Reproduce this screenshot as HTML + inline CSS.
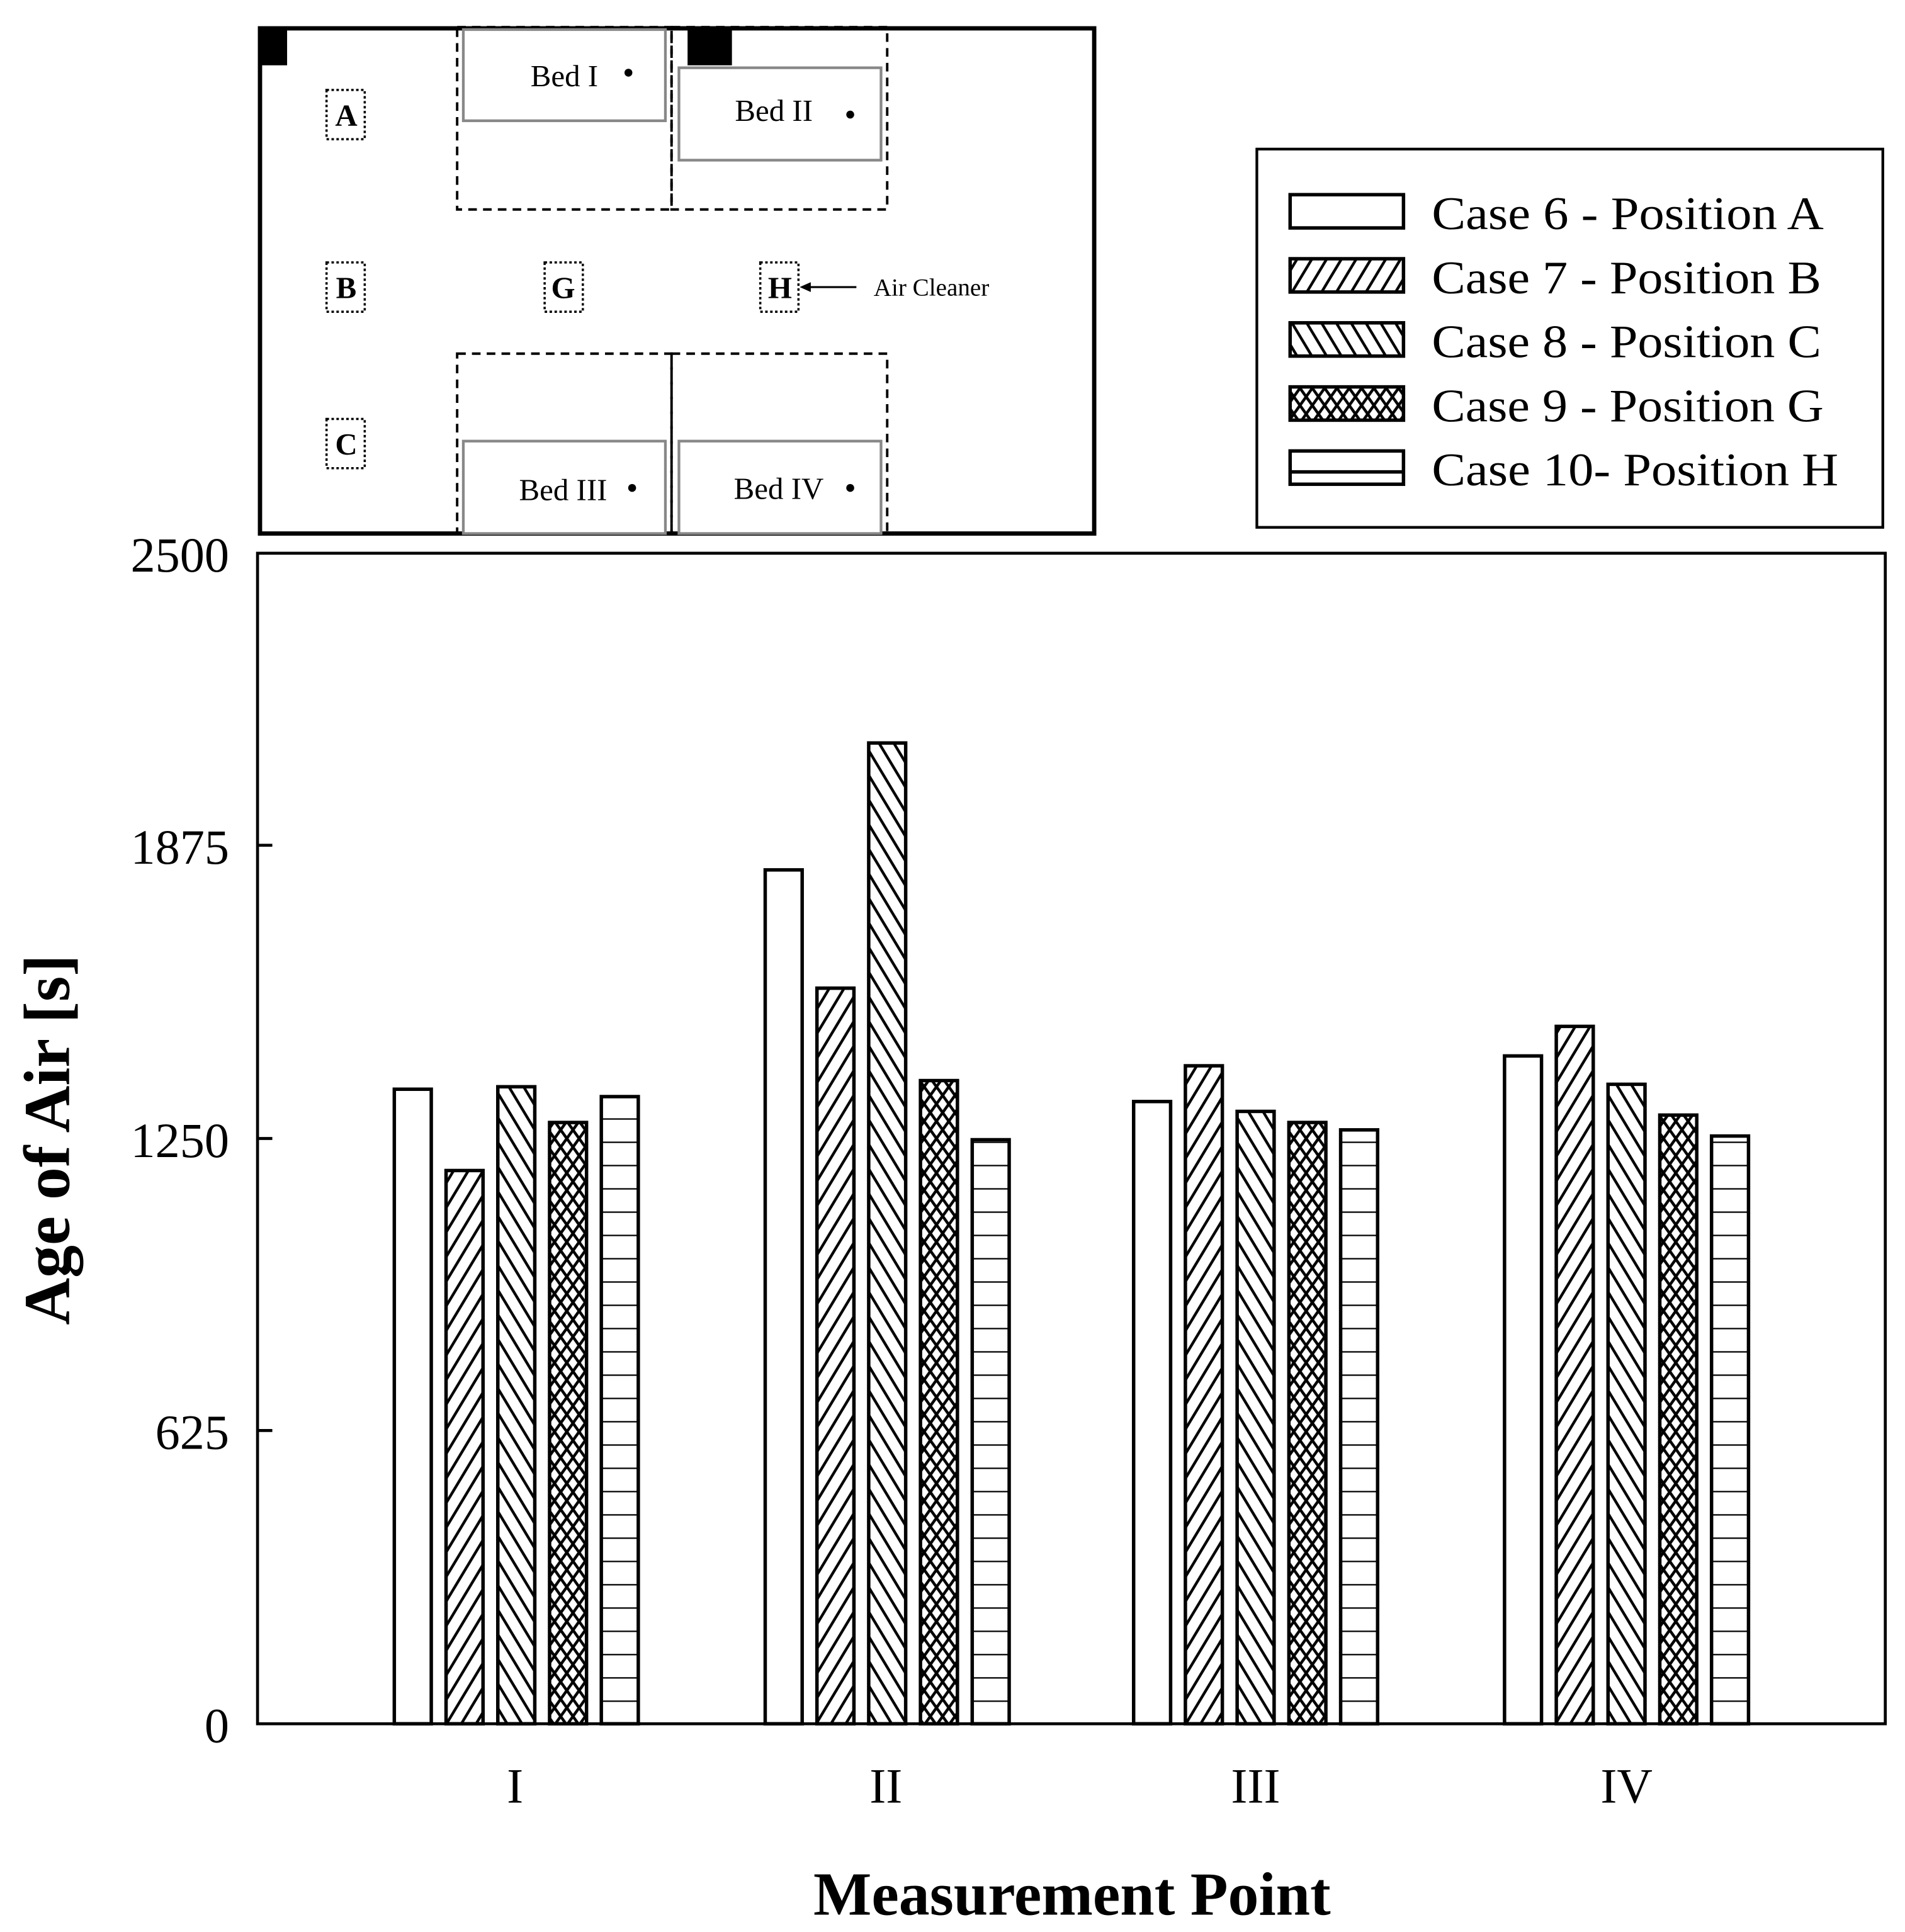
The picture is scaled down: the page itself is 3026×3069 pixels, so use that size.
<!DOCTYPE html>
<html><head><meta charset="utf-8"><style>html,body{margin:0;padding:0;background:#fff}svg{display:block}</style></head>
<body>
<svg width="3026" height="3069" viewBox="0 0 1546 1568" preserveAspectRatio="none" xmlns="http://www.w3.org/2000/svg" font-family="'Liberation Serif', serif">
<defs>
<pattern id="p7" patternUnits="userSpaceOnUse" width="12" height="20" patternTransform="skewX(-31)"><rect width="12" height="20" fill="#fff"/><line x1="3" y1="0" x2="3" y2="20" stroke="#000" stroke-width="2.6"/></pattern>
<pattern id="p8" patternUnits="userSpaceOnUse" width="12" height="20" patternTransform="skewX(31)"><rect width="12" height="20" fill="#fff"/><line x1="3" y1="0" x2="3" y2="20" stroke="#000" stroke-width="2.6"/></pattern>
<pattern id="p9" patternUnits="userSpaceOnUse" width="10" height="14"><rect width="10" height="14" fill="#fff"/><path d="M0 0L10 14M10 0L0 14" stroke="#000" stroke-width="2.3"/></pattern>
<pattern id="p10" patternUnits="userSpaceOnUse" width="30" height="18.9" y="1399"><rect width="30" height="18.9" fill="#fff"/><line x1="0" y1="0" x2="30" y2="0" stroke="#000" stroke-width="2.3"/></pattern>
</defs>
<rect width="1546" height="1568" fill="#fff"/>
<!-- room -->
<rect x="211" y="23" width="677" height="410" fill="none" stroke="#000" stroke-width="3.5"/>
<rect x="210" y="22" width="23" height="31" fill="#000"/>
<rect x="558" y="22" width="36" height="31" fill="#000"/>
<g fill="none" stroke="#000" stroke-width="2" stroke-dasharray="7,5">
<rect x="371" y="22" width="174" height="148"/><rect x="545" y="22" width="175" height="148"/>
<rect x="371" y="287" width="174" height="146"/><rect x="545" y="287" width="175" height="146"/>
</g>
<g fill="#fff" stroke="#888" stroke-width="2.2">
<rect x="376" y="24" width="164" height="74"/><rect x="551" y="55" width="164" height="75"/>
<rect x="376" y="358" width="164" height="75"/><rect x="551" y="358" width="164" height="75"/>
</g>
<g font-size="25" text-anchor="middle">
<text x="458" y="70">Bed I</text><text x="628" y="98">Bed II</text>
<text x="457" y="406">Bed III</text><text x="632" y="405">Bed IV</text>
</g>
<g fill="#000"><circle cx="510" cy="59" r="3.2"/><circle cx="690" cy="93" r="3.2"/><circle cx="513" cy="396" r="3.2"/><circle cx="690" cy="396" r="3.2"/></g>
<g fill="none" stroke="#000" stroke-width="1.8" stroke-dasharray="2,2">
<rect x="265" y="73" width="31" height="40"/><rect x="265" y="213" width="31" height="40"/><rect x="265" y="340" width="31" height="40"/>
<rect x="442" y="213" width="31" height="40"/><rect x="617" y="213" width="31" height="40"/>
</g>
<g font-size="25" font-weight="bold" text-anchor="middle">
<text x="281" y="102">A</text><text x="281" y="242">B</text><text x="281" y="369">C</text><text x="457" y="242">G</text><text x="633" y="242">H</text>
</g>
<line x1="652" y1="233" x2="695" y2="233" stroke="#000" stroke-width="1.6"/>
<path d="M649 233L658 229L658 237Z" fill="#000"/>
<text x="709" y="240" font-size="20">Air Cleaner</text>
<!-- legend -->
<rect x="1020" y="121" width="508" height="307" fill="#fff" stroke="#000" stroke-width="2.2"/>
<g stroke="#000" stroke-width="2.8">
<rect x="1047" y="158" width="92" height="27" fill="#fff"/>
<rect x="1047" y="210" width="92" height="27" fill="url(#p7)"/>
<rect x="1047" y="262" width="92" height="27" fill="url(#p8)"/>
<rect x="1047" y="314" width="92" height="27" fill="url(#p9)"/>
<rect x="1047" y="366" width="92" height="27" fill="#fff"/>
<line x1="1047" y1="383" x2="1139" y2="383"/>
</g>
<g font-size="38">
<text x="1162" y="186" textLength="318" lengthAdjust="spacingAndGlyphs">Case 6 - Position A</text>
<text x="1162" y="238" textLength="316" lengthAdjust="spacingAndGlyphs">Case 7 - Position B</text>
<text x="1162" y="290" textLength="316" lengthAdjust="spacingAndGlyphs">Case 8 - Position C</text>
<text x="1162" y="342" textLength="318" lengthAdjust="spacingAndGlyphs">Case 9 - Position G</text>
<text x="1162" y="394" textLength="330" lengthAdjust="spacingAndGlyphs">Case 10- Position H</text>
</g>
<!-- plot -->
<rect x="209" y="449" width="1321" height="950" fill="none" stroke="#000" stroke-width="2.4"/>
<g stroke="#000" stroke-width="2.4"><line x1="209" y1="686" x2="221" y2="686"/><line x1="209" y1="924" x2="221" y2="924"/><line x1="209" y1="1161" x2="221" y2="1161"/></g>
<g font-size="40" text-anchor="end">
<text x="186" y="464">2500</text><text x="186" y="701">1875</text><text x="186" y="939">1250</text><text x="186" y="1176">625</text><text x="186" y="1414">0</text>
</g>
<g stroke="#000" stroke-width="2.8">
<rect x="320" y="884" width="30" height="515" fill="#fff"/>
<rect x="362" y="950" width="30" height="449" fill="url(#p7)"/>
<rect x="404" y="882" width="30" height="517" fill="url(#p8)"/>
<rect x="446" y="911" width="30" height="488" fill="url(#p9)"/>
<rect x="488" y="890" width="30" height="509" fill="url(#p10)"/>
<rect x="621" y="706" width="30" height="693" fill="#fff"/>
<rect x="663" y="802" width="30" height="597" fill="url(#p7)"/>
<rect x="705" y="603" width="30" height="796" fill="url(#p8)"/>
<rect x="747" y="877" width="30" height="522" fill="url(#p9)"/>
<rect x="789" y="925" width="30" height="474" fill="url(#p10)"/>
<rect x="920" y="894" width="30" height="505" fill="#fff"/>
<rect x="962" y="865" width="30" height="534" fill="url(#p7)"/>
<rect x="1004" y="902" width="30" height="497" fill="url(#p8)"/>
<rect x="1046" y="911" width="30" height="488" fill="url(#p9)"/>
<rect x="1088" y="917" width="30" height="482" fill="url(#p10)"/>
<rect x="1221" y="857" width="30" height="542" fill="#fff"/>
<rect x="1263" y="833" width="30" height="566" fill="url(#p7)"/>
<rect x="1305" y="880" width="30" height="519" fill="url(#p8)"/>
<rect x="1347" y="905" width="30" height="494" fill="url(#p9)"/>
<rect x="1389" y="922" width="30" height="477" fill="url(#p10)"/>
</g>
<g font-size="40" text-anchor="middle">
<text x="418" y="1463">I</text><text x="719" y="1463">II</text><text x="1019" y="1463">III</text><text x="1320" y="1463">IV</text>
</g>
<text x="870" y="1554" font-size="50" font-weight="bold" text-anchor="middle">Measurement Point</text>
<text transform="translate(56,925) rotate(-90)" font-size="53" font-weight="bold" text-anchor="middle">Age of Air [s]</text>
</svg>
</body></html>
